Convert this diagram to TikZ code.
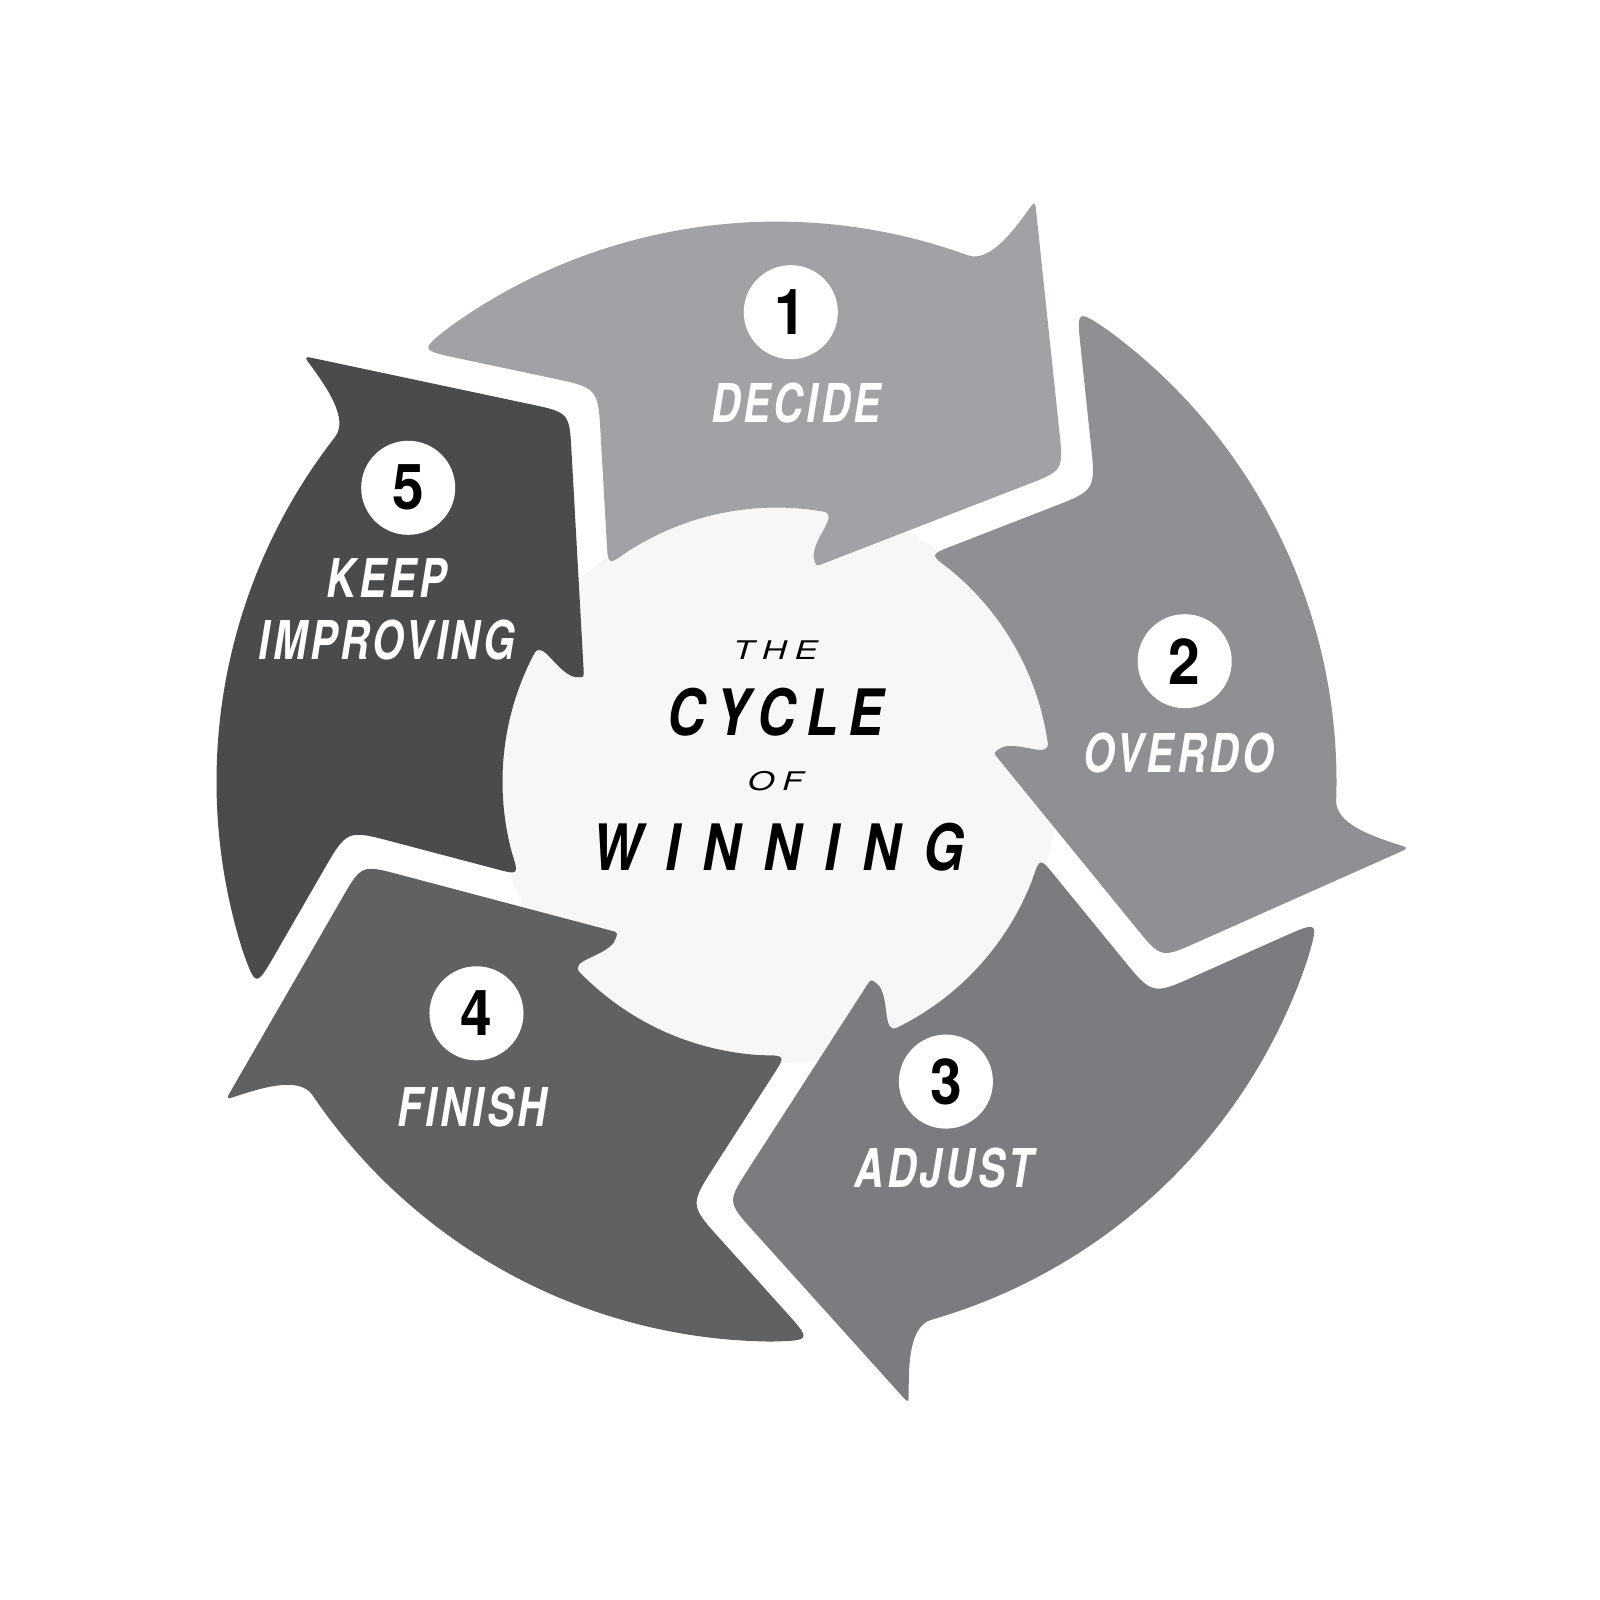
\documentclass[tikz,border=0pt]{standalone}
\usepackage{graphicx}
\usepackage{fontspec}
\setmainfont{TeX Gyre Heros}
\newfontfamily\stepfont[LetterSpace=8]{TeX Gyre Heros}
\newfontfamily\numfont{TeX Gyre Heros}
\newfontfamily\cyclefont[LetterSpace=20]{TeX Gyre Heros}
\newfontfamily\winfont[LetterSpace=44]{TeX Gyre Heros}
\newfontfamily\thinfont[LetterSpace=22]{TeX Gyre Heros}
\newcommand{\narrow}[2][0.76]{\scalebox{#1}[1]{#2}}

\definecolor{segA}{HTML}{A1A2A5}
\definecolor{segB}{HTML}{8F9094}
\definecolor{segC}{HTML}{7B7C80}
\definecolor{segD}{HTML}{606163}
\definecolor{segE}{HTML}{4A4B4D}
\definecolor{hub}{HTML}{F7F7F7}

\tikzset{
  numdot/.style={circle, fill=white, minimum size=0.94cm, inner sep=0pt,
    font=\numfont\bfseries\fontsize{18}{18}\selectfont},
  steplabel/.style={text=white, align=center, inner sep=0pt,
    font=\stepfont\bfseries\itshape\fontsize{15.2}{17.6}\selectfont},
}

\begin{document}
\begin{tikzpicture}[x=0.01cm, y=0.01cm]
    \useasboundingbox (-776.5,-818.4) rectangle (823.5,781.6);
    \fill[hub] (0,0) circle (282);

    % one arrow, turned five times
    \foreach \k/\shade in {0/segA,1/segB,2/segC,3/segD,4/segE}{
        \begin{scope}[rotate={-72*\k}]
            \fill[\shade] (125.5:560) arc[start angle=125.5, end angle=70, radius=560]
                .. controls (213,519) and (236,550) .. (250,569)
                .. controls (258.5,581) .. (259.6,571)
                -- (282.8,350.8) .. controls (287,311) .. (249.7,296.6)
                -- (46.5,217.9) .. controls (39,215) .. (37,226)
                .. controls (38,245) and (62,266) .. (80:274)
                arc[start angle=80, end angle=123, radius=274]
                .. controls (127.96:274) .. (-169.8,240)
                -- (-175.8,345.8) .. controls (-178.4,393.7) .. (-225.4,403.6)
                -- (-317.8,423.2) .. controls (-356.9,431.5) .. (125.5:560) -- cycle;
        \end{scope}
    }

    \node[numdot] (num1) at (14.3,469.4) {\narrow[0.9]{1}};
    \node[steplabel] (decide) at (19.4,378.5) {\narrow{DECIDE}};

    \node[numdot] (num2) at (408.2,120.4) {\narrow[0.9]{2}};
    \node[steplabel] (overdo) at (402,28.5) {\narrow{OVERDO}};

    \node[numdot] (num3) at (169.4,-300) {\narrow[0.9]{3}};
    \node[steplabel] (adjust) at (167.4,-386.8) {\narrow{ADJUST}};

    \node[numdot] (num4) at (-300,-231.7) {\narrow[0.9]{4}};
    \node[steplabel] (finish) at (-304,-325.5) {\narrow{FINISH}};

    \node[numdot] (num5) at (-368.3,293.8) {\narrow[0.9]{5}};
    \node[steplabel] (improve) at (-389.7,172) {\narrow{KEEP}\\\narrow{IMPROVING}};

    \node[font=\thinfont\itshape\fontsize{7.3}{8}\selectfont] (the) at (-1,131.6) {\narrow[1.35]{THE}};
    \node[font=\cyclefont\bfseries\itshape\fontsize{18.2}{20}\selectfont] (cycle) at (-1,69.5) {\narrow[0.82]{CYCLE}};
    \node[font=\thinfont\itshape\fontsize{7.3}{8}\selectfont] (of) at (-1,0) {\narrow[1.35]{OF}};
    \node[font=\winfont\bfseries\itshape\fontsize{18.2}{20}\selectfont] (winning) at (2,-65.3) {\narrow[0.82]{WINNING}};
\end{tikzpicture}
\end{document}
